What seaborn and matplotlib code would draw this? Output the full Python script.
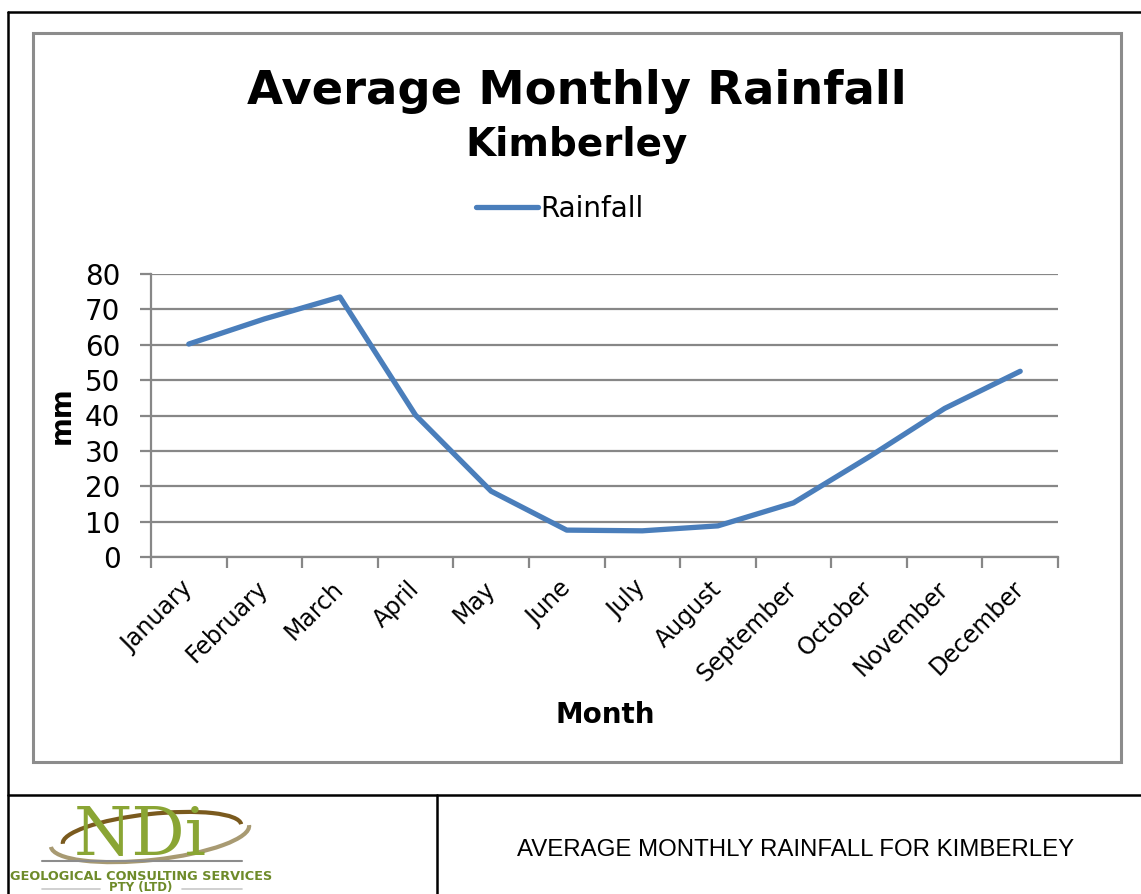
import numpy as np
import pandas as pd
import matplotlib
matplotlib.use('Agg')
import matplotlib.pyplot as plt
from matplotlib import font_manager
from matplotlib.patches import Rectangle, Arc
from matplotlib.lines import Line2D
import seaborn as sns

# data
months = ["January", "February", "March", "April", "May", "June",
          "July", "August", "September", "October", "November", "December"]
rainfall = [60.2, 67.3, 73.5, 40.1, 18.6, 7.6, 7.4, 8.8, 15.3, 28.3, 42.0, 52.5]
y_ticks = [0, 10, 20, 30, 40, 50, 60, 70, 80]

W, H = 1141, 894
LINE_BLUE = "#4A7EBB"
GRID_GRAY = "#878787"

sns.set_theme(style="white")
plt.rcParams['font.family'] = ['DejaVu Sans']
plt.rcParams.update({'text.color': 'black', 'axes.labelcolor': 'black',
                     'xtick.color': 'black', 'ytick.color': 'black'})

names = {f.name for f in font_manager.fontManager.ttflist}
narrow = 'Liberation Sans Narrow' in names
cap_font = 'Liberation Sans Narrow' if narrow else 'Liberation Sans'

df = pd.DataFrame({"Month": months, "Rainfall": rainfall})

fig = plt.figure(figsize=(W / 100, H / 100), dpi=100)


def fx(px):
    return px / W


def fy(py):
    return 1 - py / H


ax = fig.add_axes([fx(151), fy(557), fx(1058) - fx(151), fy(274) - fy(557)])
sns.lineplot(data=df, x="Month", y="Rainfall", ax=ax, sort=False,
             color=LINE_BLUE, linewidth=3.8, label="Rainfall",
             solid_capstyle='round', solid_joinstyle='round')

ax.set_xlim(-0.5, len(months) - 0.5)
ax.set_ylim(0, 80)
ax.set_yticks(y_ticks)
ax.yaxis.grid(True, color=GRID_GRAY, linewidth=1.6)
ax.set_axisbelow(True)
for side in ["top", "right"]:
    ax.spines[side].set_visible(False)
for side in ["left", "bottom"]:
    ax.spines[side].set_color(GRID_GRAY)
    ax.spines[side].set_linewidth(1.6)

ax.set_xticks(range(len(months)))
ax.set_xticklabels(months, rotation=45, ha='right', va='center',
                   rotation_mode='anchor', fontsize=17)
ax.set_xticks(np.arange(-0.5, len(months), 1), minor=True)
ax.tick_params(axis='x', which='major', length=0, pad=20)
ax.tick_params(axis='x', which='minor', length=8, width=1.6, color=GRID_GRAY, direction='out', bottom=True)
ax.tick_params(axis='y', length=8, width=1.6, color=GRID_GRAY, direction='out', left=True,
               labelsize=20, pad=14)
ax.set_xlabel("")
ax.set_ylabel("")

ax.legend(loc='center', bbox_to_anchor=(fx(560), fy(209)), bbox_transform=fig.transFigure,
          frameon=False, fontsize=20, handlelength=2.2, handletextpad=0.1)

# titles and axis labels
fig.text(fx(577), fy(104), "Average Monthly Rainfall", ha='center', va='baseline',
         fontsize=33.5, fontweight='bold')
fig.text(fx(577), fy(156), "Kimberley", ha='center', va='baseline',
         fontsize=28, fontweight='bold')
fig.text(fx(605), fy(715), "Month", ha='center', va='center', fontsize=20, fontweight='bold')
fig.text(fx(62), fy(415), "mm", ha='center', va='center', rotation=90, fontsize=20, fontweight='bold')

# chart frame and document table lines
fig.add_artist(Rectangle((fx(33), fy(762)), fx(1121) - fx(33), fy(33) - fy(762),
                         transform=fig.transFigure, fill=False, edgecolor="#8C8C8C", linewidth=2.2))
fig.add_artist(Line2D([fx(8), fx(8)], [fy(12), 0], transform=fig.transFigure, color='black', linewidth=1.8))
fig.add_artist(Line2D([fx(8), 1], [fy(12), fy(12)], transform=fig.transFigure, color='black', linewidth=1.8))
fig.add_artist(Line2D([fx(8), 1], [fy(795), fy(795)], transform=fig.transFigure, color='black', linewidth=1.8))
fig.add_artist(Line2D([fx(437), fx(437)], [fy(795), 0], transform=fig.transFigure, color='black', linewidth=1.8))

# caption cell
fig.text(fx(796), fy(850), "AVERAGE MONTHLY RAINFALL FOR KIMBERLEY", ha='center', va='center',
         fontsize=20 if narrow else 17.3, family=cap_font, color='black')

# rough logo
fig.add_artist(Arc((fx(150), fy(836)), fx(200), fy(0) - fy(48), angle=8, theta1=180, theta2=360,
                   transform=fig.transFigure, color="#A89A72", linewidth=3))
fig.add_artist(Arc((fx(152), fy(834)), fx(180), fy(0) - fy(40), angle=8, theta1=0, theta2=180,
                   transform=fig.transFigure, color="#7A5A1E", linewidth=3))
fig.text(fx(140), fy(855), "NDi", ha='center', va='baseline', fontsize=48,
         family='DejaVu Serif', color="#8AA534")
fig.add_artist(Line2D([fx(42), fx(242)], [fy(861), fy(861)], transform=fig.transFigure,
                      color="#8C8C8C", linewidth=1.5))
fig.text(fx(141), fy(876), "GEOLOGICAL CONSULTING SERVICES", ha='center', va='center',
         fontsize=9.3, fontweight='bold', color="#6E8B2A")
fig.add_artist(Line2D([fx(42), fx(100)], [fy(889), fy(889)], transform=fig.transFigure,
                      color="#C8C8C8", linewidth=1.2))
fig.add_artist(Line2D([fx(182), fx(242)], [fy(889), fy(889)], transform=fig.transFigure,
                      color="#C8C8C8", linewidth=1.2))
fig.text(fx(141), fy(887), "PTY (LTD)", ha='center', va='center',
         fontsize=8.5, fontweight='bold', color="#6E8B2A")

fig.savefig("out.png", dpi=100, facecolor='white')
